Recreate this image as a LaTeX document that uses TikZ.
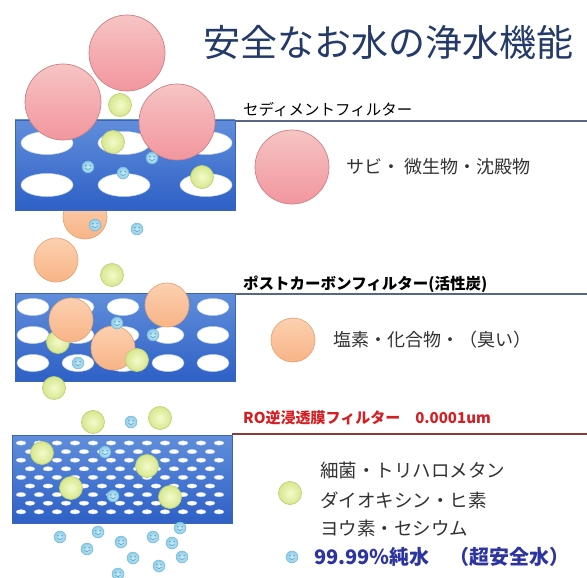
\documentclass[tikz,border=0pt]{standalone}
\usepackage{fontspec}
\setmainfont{Noto Sans CJK JP}
\definecolor{titlenavy}{RGB}{36,58,104}
\definecolor{labelred}{RGB}{212,32,36}
\definecolor{purblue}{RGB}{44,52,160}
\definecolor{textgray}{RGB}{50,50,50}
\definecolor{lineblue}{RGB}{88,104,132}
\definecolor{linered}{RGB}{140,58,58}
\definecolor{filtTop}{RGB}{96,142,218}
\definecolor{filtMid}{RGB}{120,162,230}
\definecolor{filtBot}{RGB}{46,96,198}
\definecolor{filtEdge}{RGB}{60,100,180}
\definecolor{holeEdge}{RGB}{190,210,240}
\definecolor{rustTop}{RGB}{246,196,196}
\definecolor{rustBot}{RGB}{242,150,158}
\definecolor{rustEdge}{RGB}{205,128,134}
\definecolor{orgTop}{RGB}{252,208,176}
\definecolor{orgBot}{RGB}{248,180,134}
\definecolor{orgEdge}{RGB}{228,166,120}
\definecolor{grnIn}{RGB}{244,250,206}
\definecolor{grnOut}{RGB}{214,232,140}
\definecolor{grnEdge}{RGB}{190,208,120}
\definecolor{dropIn}{RGB}{200,236,248}
\definecolor{dropOut}{RGB}{140,204,230}
\definecolor{dropEdge}{RGB}{110,180,214}
\definecolor{dropFace}{RGB}{80,150,190}
\begin{document}
\begin{tikzpicture}[x=1pt,y=-1pt,
  ball/.style={circle,inner sep=0pt,line width=0.7pt},
  rustball/.style={ball,top color=rustTop,bottom color=rustBot,draw=rustEdge,minimum size=76pt},
  orgball/.style={ball,top color=orgTop,bottom color=orgBot,draw=orgEdge,minimum size=44pt},
  grnball/.style={ball,inner color=grnIn,outer color=grnOut,draw=grnEdge,minimum size=23pt},
  filterbox/.style={top color=filtTop,middle color=filtMid,bottom color=filtBot,draw=filtEdge,line width=0.6pt},
  hole/.style={fill=white,draw=holeEdge,line width=0.5pt},
  flabel/.style={anchor=west,inner sep=0pt,font=\fontsize{15.5pt}{16pt}\selectfont},
  legend/.style={anchor=west,inner sep=0pt,text=textgray,font=\fontsize{18pt}{19pt}\selectfont},
  water/.pic={
    \shade[inner color=dropIn,outer color=dropOut,draw=dropEdge,line width=0.4pt] (0,0) circle (6pt);
    \fill[dropFace] (-2.1,-1.3) circle (0.8pt) (2.1,-1.3) circle (0.8pt);
    \draw[dropFace,line width=0.5pt] (-2.6,1.2) .. controls (-1,3.2) and (1,3.2) .. (2.6,1.2);
  }
]
\useasboundingbox[fill=white] (0,0) rectangle (587,578);

% title
\node[anchor=west,inner sep=0pt,text=titlenavy,font=\fontsize{37pt}{38pt}\selectfont] (title) at (203,42) {安全なお水の浄水機能};

% ---------- sediment filter ----------
\node[orgball] (o0) at (85,217) {};
\shade[filterbox] (15,120) rectangle (235,210);
\foreach \yy in {143,185}
  \foreach \xx in {47,124,206}
    \draw[hole] (\xx,\yy) ellipse [x radius=26pt, y radius=11.5pt];
\node[grnball] (g1) at (120,105) {};
\node[grnball] (g2) at (113,142) {};
\node[grnball] (g3) at (202,177) {};
\node[rustball] (r1) at (127,53) {};
\node[rustball] (r2) at (63,102) {};
\node[rustball] (r3) at (177,122) {};
\pic at (88,167) {water};
\pic at (123,173) {water};
\pic at (152,158) {water};

\node[flabel] (lab1) at (243,110) {セディメントフィルター};
\coordinate (l1a) at (235,121);
\coordinate (l1b) at (587,121);
\draw[lineblue,line width=1.4pt] (l1a) -- (l1b);
\node[rustball,minimum size=74pt] (rl) at (292,167) {};
\node[legend] (t1) at (346,167) {サビ・ 微生物・沈殿物};

% falling between filters
\pic at (95,225) {water};
\pic at (137,229) {water};
\node[orgball] (o1) at (56,260) {};
\node[grnball] (g4) at (112,275) {};

% ---------- post carbon filter ----------
\shade[filterbox] (15,293) rectangle (235,381);
\foreach \yy in {307,335,363}
  \foreach \xx in {33,78,123,168,213}
    \draw[hole] (\xx,\yy) ellipse [x radius=16pt, y radius=8.5pt];
\node[grnball] (g5) at (58,342) {};
\node[orgball] (o2) at (71,320) {};
\node[orgball] (o3) at (167,305) {};
\node[orgball] (o4) at (113,348) {};
\node[grnball] (g6) at (137,360) {};
\pic at (117,323) {water};
\pic at (153,335) {water};
\pic at (78,363) {water};
\node[grnball] (g7) at (54,388) {};

\node[flabel,font=\bfseries\fontsize{15.5pt}{16pt}\selectfont] (lab2) at (243,284) {ポストカーボンフィルター(活性炭)};
\coordinate (l2a) at (235,294);
\coordinate (l2b) at (587,294);
\draw[lineblue,line width=1.4pt] (l2a) -- (l2b);
\node[orgball] (ol) at (293,340) {};
\node[legend] (t2) at (333,340) {塩素・化合物・（臭い）};

% falling between filters
\node[grnball] (g8) at (93,422) {};
\node[grnball] (g9) at (160,418) {};
\pic at (131,422) {water};

% ---------- RO membrane filter ----------
\shade[filterbox] (12,435) rectangle (232,523);
\foreach \r in {0,...,8} {
  \pgfmathsetmacro{\yy}{443+8.6*\r}
  \pgfmathsetmacro{\xo}{mod(\r,2)==0 ? 21 : 30}
  \foreach \c in {0,...,11} {
    \pgfmathsetmacro{\xx}{\xo+18*\c}
    \ifdim\xx pt<226pt
      \draw[hole,line width=0.3pt] (\xx,\yy) ellipse [x radius=5pt, y radius=2.2pt];
    \fi
  }
}
\node[grnball] (g10) at (42,453) {};
\node[grnball] (g11) at (147,466) {};
\node[grnball] (g12) at (71,488) {};
\node[grnball] (g13) at (170,497) {};
\pic at (105,452) {water};
\pic at (113,496) {water};

\node[flabel,text=labelred,font=\bfseries\fontsize{15pt}{16pt}\selectfont] (lab3) at (243,418) {RO逆浸透膜フィルター　0.0001um};
\coordinate (l3a) at (232,434);
\coordinate (l3b) at (587,434);
\draw[linered,line width=1.4pt] (l3a) -- (l3b);

% purified water below
\foreach \p in {(60,537),(98,532),(87,549),(121,542),(133,558),(153,537),(172,543),(182,557),(180,528),(159,566),(118,574)}
  \pic at \p {water};

% legend for RO
\node[grnball] (gl) at (290,493) {};
\node[legend,font=\fontsize{18.5pt}{19pt}\selectfont] (t3) at (320,470) {細菌・トリハロメタン};
\node[legend,font=\fontsize{18.5pt}{19pt}\selectfont] (t4) at (320,500) {ダイオキシン・ヒ素};
\node[legend,font=\fontsize{18.5pt}{19pt}\selectfont] (t5) at (320,528) {ヨウ素・セシウム};
\pic at (292,557) {water};
\node[legend,text=purblue,font=\bfseries\fontsize{20pt}{21pt}\selectfont] (t6) at (314,557) {99.99％純水　（超安全水）};
\end{tikzpicture}
\end{document}
